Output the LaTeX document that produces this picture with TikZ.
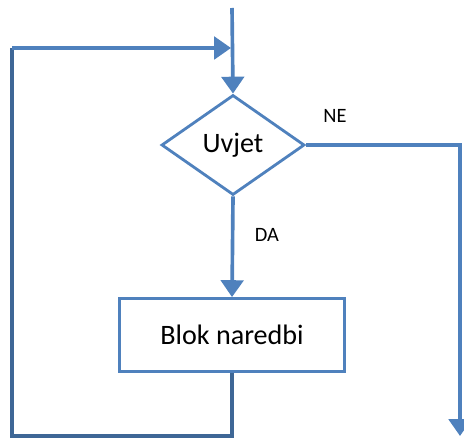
\documentclass[tikz,border=0pt]{standalone}
\usepackage{fontspec}
\setmainfont{Carlito}
\usetikzlibrary{positioning, arrows.meta, shapes.geometric}
\definecolor{steel}{HTML}{4F81BD}
\definecolor{steeldark}{HTML}{3E6796}

\begin{document}
\begin{tikzpicture}[x=0.025cm, y=-0.025cm,
    flow/.style={steel, line width=2.6pt},
    tip/.style={-{Triangle[width=16pt, length=12pt]}},
    shapeline/.style={draw=steel, line width=2pt, fill=white},
    lbl/.style={font=\fontsize{14.5}{17}\selectfont}]
  \useasboundingbox (0,0) rectangle (464,438);
  % Elementi
  \node[shapeline, diamond, aspect=1.43, inner sep=0pt,
        minimum width=3.575cm, minimum height=2.5cm,
        font=\fontsize{20}{24}\selectfont] (uvjet) at (233,145) {Uvjet};
  \node[shapeline, rectangle, minimum width=5.625cm, minimum height=1.825cm,
        font=\fontsize{20}{24}\selectfont] (blok) at (232,335) {Blok naredbi};
  \coordinate (ulaz) at (232,8);
  \coordinate (spoj) at (231,48);
  \coordinate (izlaz) at (460,436);
  % Tok
  \draw[flow, tip] (ulaz) -- (uvjet.north);
  \draw[flow, tip] (uvjet.south) -- (blok.north);
  \draw[flow, tip] (uvjet.east) -| (izlaz);
  \draw[flow, steeldark] (blok.south) -- (232,436) -- (12,436) -- (12,48);
  \draw[flow, tip] (12,48) -- (spoj);
  % Oznake
  \node[lbl] (ne) at (335,116) {NE};
  \node[lbl] (da) at (267,235) {DA};
\end{tikzpicture}
\end{document}
